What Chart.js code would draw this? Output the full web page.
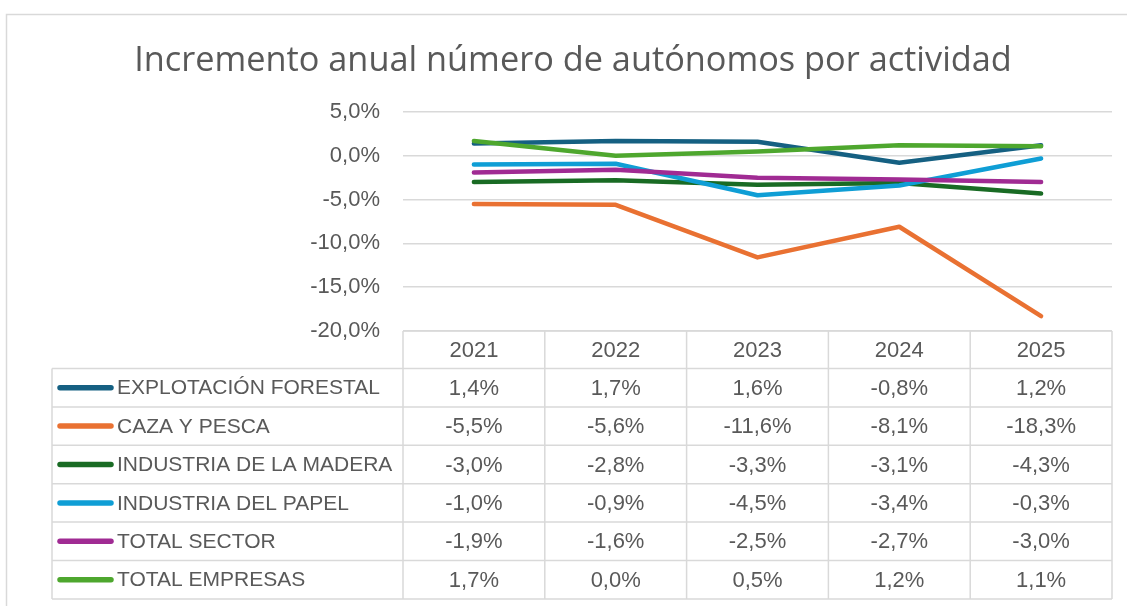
<!DOCTYPE html>
<html>
<head>
<meta charset="utf-8">
<script src="https://cdn.jsdelivr.net/npm/chart.js@4.4.1/dist/chart.umd.min.js"></script>
<style>
  html, body { margin: 0; padding: 0; background: #fff; }
</style>
</head>
<body>
<canvas id="chart" width="1127" height="606"></canvas>
<script>
const years = ['2021', '2022', '2023', '2024', '2025'];
const seriesNames = ['EXPLOTACIÓN FORESTAL', 'CAZA Y PESCA', 'INDUSTRIA DE LA MADERA', 'INDUSTRIA DEL PAPEL', 'TOTAL SECTOR', 'TOTAL EMPRESAS'];
const explotacionForestal = [1.4, 1.7, 1.6, -0.8, 1.2];
const cazaPesca = [-5.5, -5.6, -11.6, -8.1, -18.3];
const industriaMadera = [-3.0, -2.8, -3.3, -3.1, -4.3];
const industriaPapel = [-1.0, -0.9, -4.5, -3.4, -0.3];
const totalSector = [-1.9, -1.6, -2.5, -2.7, -3.0];
const totalEmpresas = [1.7, 0.0, 0.5, 1.2, 1.1];
const yMin = -20, yMax = 5, yStep = 5;

const seriesValues = [explotacionForestal, cazaPesca, industriaMadera, industriaPapel, totalSector, totalEmpresas];
const colors = ['#156082', '#E97132', '#196B24', '#0F9ED5', '#A02B93', '#4EA72E'];

const textColor = '#595959';
const lineGray = '#d9d9d9';
const titleFont = '"Open Sans", sans-serif';
const bodyFont = '"Liberation Sans", Arial, sans-serif';

function pct(v) {
  return v.toFixed(1).replace('.', ',') + '%';
}

// title, outer frame and the data table under the plot
const tablePlugin = {
  id: 'tablePlugin',
  beforeDraw(chart) {
    const ctx = chart.ctx;
    ctx.save();
    ctx.fillStyle = '#fff';
    ctx.fillRect(0, 0, chart.width, chart.height);
    ctx.strokeStyle = lineGray;
    ctx.lineWidth = 1.5;
    ctx.strokeRect(6.5, 14.5, chart.width + 20, chart.height + 20);
    ctx.fillStyle = textColor;
    ctx.font = '34.3px ' + titleFont;
    ctx.textAlign = 'center';
    ctx.textBaseline = 'alphabetic';
    ctx.fillText('Incremento anual número de autónomos por actividad', 573, 71);
    ctx.restore();
  },
  afterDraw(chart) {
    const ctx = chart.ctx;
    const xs = chart.scales.x;
    const area = chart.chartArea;
    const colW = xs.width / years.length;
    const tableLeft = 52;
    const headerTop = area.bottom;
    const headerBottom = headerTop + 37.5;
    const rowH = 38.4;
    const bottom = headerBottom + rowH * seriesNames.length;

    ctx.save();
    ctx.strokeStyle = lineGray;
    ctx.lineWidth = 1.5;
    ctx.beginPath();
    ctx.moveTo(area.left, headerTop);
    ctx.lineTo(area.right, headerTop);
    for (let i = 0; i <= seriesNames.length; i++) {
      const y = headerBottom + i * rowH;
      ctx.moveTo(tableLeft, y);
      ctx.lineTo(area.right, y);
    }
    ctx.moveTo(tableLeft, headerBottom);
    ctx.lineTo(tableLeft, bottom);
    for (let k = 0; k <= years.length; k++) {
      const x = area.left + k * colW;
      ctx.moveTo(x, headerTop);
      ctx.lineTo(x, bottom);
    }
    ctx.stroke();

    ctx.fillStyle = textColor;
    ctx.font = '22px ' + bodyFont;
    ctx.textBaseline = 'middle';
    ctx.textAlign = 'center';
    years.forEach((yr, i) => {
      ctx.fillText(yr, xs.getPixelForValue(i), (headerTop + headerBottom) / 2 + 1);
    });

    seriesNames.forEach((name, r) => {
      const cy = headerBottom + r * rowH + rowH / 2;
      ctx.strokeStyle = colors[r];
      ctx.lineWidth = 5.5;
      ctx.lineCap = 'round';
      ctx.beginPath();
      ctx.moveTo(60, cy);
      ctx.lineTo(111, cy);
      ctx.stroke();
      ctx.fillStyle = textColor;
      ctx.textAlign = 'left';
      ctx.font = '21px ' + bodyFont;
      ctx.fillText(name, 117, cy + 1);
      ctx.textAlign = 'center';
      ctx.font = '22px ' + bodyFont;
      seriesValues[r].forEach((v, i) => {
        ctx.fillText(pct(v), xs.getPixelForValue(i), cy + 1);
      });
    });
    ctx.restore();
  }
};

const datasets = seriesNames.map((name, i) => ({
  label: name,
  data: seriesValues[i],
  borderColor: colors[i],
  backgroundColor: colors[i],
  borderWidth: 4.5,
  pointRadius: 0,
  tension: 0,
  borderCapStyle: 'round',
  borderJoinStyle: 'round',
  order: seriesNames.length - i
}));

new Chart(document.getElementById('chart'), {
  type: 'line',
  data: { labels: years, datasets: datasets },
  options: {
    responsive: false,
    animation: false,
    devicePixelRatio: 1,
    layout: { padding: { left: 0, top: 112, right: 15, bottom: 275 } },
    plugins: {
      legend: { display: false },
      title: { display: false },
      tooltip: { enabled: false }
    },
    scales: {
      x: {
        type: 'category',
        offset: true,
        display: false
      },
      y: {
        min: yMin,
        max: yMax,
        ticks: {
          stepSize: yStep,
          padding: 23,
          color: textColor,
          font: { size: 22, family: bodyFont },
          callback: v => pct(v)
        },
        grid: { color: lineGray, lineWidth: 1.5, drawTicks: false },
        border: { display: false },
        afterFit: scale => { scale.width = 403; }
      }
    }
  },
  plugins: [tablePlugin]
});
</script>
</body>
</html>
